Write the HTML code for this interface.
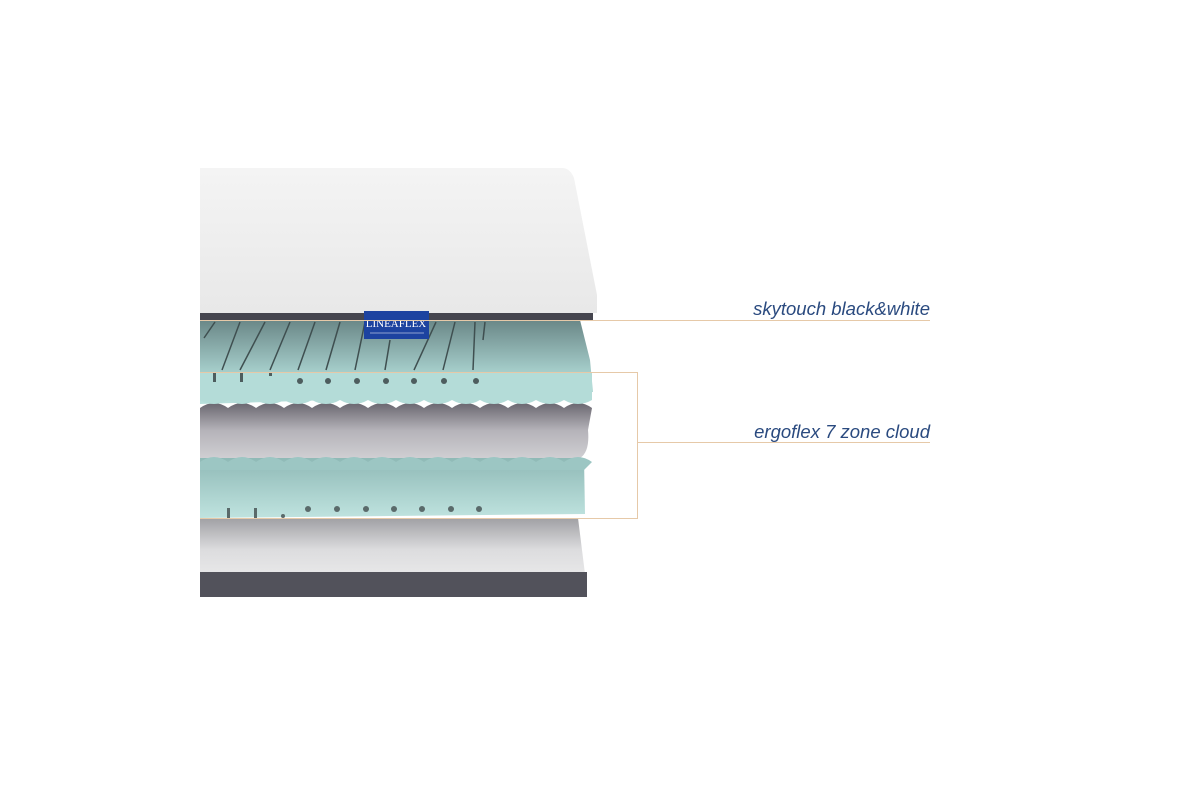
<!DOCTYPE html>
<html><head><meta charset="utf-8"><style>
html,body{margin:0;padding:0;background:#fff;width:1200px;height:800px;overflow:hidden}
svg{display:block}
</style></head><body>
<svg width="1200" height="800" viewBox="0 0 1200 800" xmlns="http://www.w3.org/2000/svg">
<defs>
<linearGradient id="top" x1="0" y1="0" x2="0" y2="1"><stop offset="0" stop-color="#f4f4f4"/><stop offset="1" stop-color="#e8e8e8"/></linearGradient>
<linearGradient id="teal" x1="0" y1="0" x2="0" y2="1"><stop offset="0" stop-color="#6a8787"/><stop offset="0.6" stop-color="#a4ccc9"/><stop offset="1" stop-color="#b9e0dc"/></linearGradient>
<linearGradient id="gray" x1="0" y1="0" x2="0" y2="1"><stop offset="0" stop-color="#6a6770"/><stop offset="0.5" stop-color="#b5b3b9"/><stop offset="1" stop-color="#cfced2"/></linearGradient>
<linearGradient id="base" x1="0" y1="0" x2="0" y2="1"><stop offset="0" stop-color="#a0a0a4"/><stop offset="0.4" stop-color="#dcdcde"/><stop offset="1" stop-color="#f2f2f2"/></linearGradient>
<linearGradient id="teal2" x1="0" y1="0" x2="0" y2="1"><stop offset="0" stop-color="#8fb9b6"/><stop offset="1" stop-color="#bfe3df"/></linearGradient>
</defs>
<!-- bottom base -->
<path d="M200 518 L578 518 L587 590 L587 597 L200 597 Z" fill="url(#base)"/>
<rect x="200" y="572" width="387" height="25" fill="#52525b"/>
<!-- lower teal -->
<path d="M200 458 L584 458 L585 514 L200 518 Z" fill="url(#teal2)"/>
<g fill="#5a6a6a">
<rect x="227" y="508" width="3" height="10"/><rect x="254" y="508" width="3" height="10"/><circle cx="283" cy="516" r="2"/>
<circle cx="308" cy="509" r="3"/><circle cx="337" cy="509" r="3"/><circle cx="366" cy="509" r="3"/><circle cx="394" cy="509" r="3"/><circle cx="422" cy="509" r="3"/><circle cx="451" cy="509" r="3"/><circle cx="479" cy="509" r="3"/>
</g>
<!-- gray wavy -->
<path d="M200 408 q14 -10 28 0 q14 -10 28 0 q14 -10 28 0 q14 -10 28 0 q14 -10 28 0 q14 -10 28 0 q14 -10 28 0 q14 -10 28 0 q14 -10 28 0 q14 -10 28 0 q14 -10 28 0 q14 -10 28 0 q14 -10 28 0 q14 -10 28 0 L588 430 Q590 452 580 458 L200 458 Z" fill="url(#gray)"/>
<path d="M200 462 q14 -10 28 0 q14 -10 28 0 q14 -10 28 0 q14 -10 28 0 q14 -10 28 0 q14 -10 28 0 q14 -10 28 0 q14 -10 28 0 q14 -10 28 0 q14 -10 28 0 q14 -10 28 0 q14 -10 28 0 q14 -10 28 0 q14 -10 28 0 L584 470 L200 470 Z" fill="#9cc6c3"/>
<!-- upper teal -->
<path d="M200 320 L580 320 L590 360 L593 392 L200 404 Z" fill="url(#teal)"/>
<rect x="200" y="372" width="392" height="28" fill="#b4dcd8"/>
<path d="M200 400 q14 8 28 0 q14 8 28 0 q14 8 28 0 q14 8 28 0 q14 8 28 0 q14 8 28 0 q14 8 28 0 q14 8 28 0 q14 8 28 0 q14 8 28 0 q14 8 28 0 q14 8 28 0 q14 8 28 0 q14 8 28 0 L592 400 L592 396 L200 396 Z" fill="#b4dcd8"/>
<g stroke="#3f4f50" stroke-width="1.5">
<line x1="215" y1="322" x2="204" y2="338"/><line x1="240" y1="322" x2="222" y2="370"/><line x1="265" y1="322" x2="240" y2="370"/>
<line x1="290" y1="322" x2="270" y2="370"/><line x1="315" y1="322" x2="298" y2="370"/><line x1="340" y1="322" x2="326" y2="370"/>
<line x1="365" y1="322" x2="355" y2="370"/><line x1="390" y1="340" x2="385" y2="370"/><line x1="436" y1="322" x2="414" y2="370"/>
<line x1="455" y1="322" x2="443" y2="370"/><line x1="475" y1="322" x2="473" y2="370"/><line x1="485" y1="322" x2="483" y2="340"/>
</g>
<g fill="#4d5d5e">
<rect x="213" y="372" width="3" height="10"/><rect x="240" y="372" width="3" height="10"/><rect x="269" y="372" width="3" height="4"/>
<circle cx="300" cy="381" r="3"/><circle cx="328" cy="381" r="3"/><circle cx="357" cy="381" r="3"/><circle cx="386" cy="381" r="3"/><circle cx="414" cy="381" r="3"/><circle cx="444" cy="381" r="3"/><circle cx="476" cy="381" r="3"/>
</g>
<!-- top white -->
<path d="M200 168 L562 168 Q570 168 574 178 L597 295 L597 313 L200 313 Z" fill="url(#top)"/>
<rect x="200" y="313" width="393" height="7" fill="#45454e"/>
<!-- label -->
<rect x="364" y="311" width="65" height="28" fill="#1d43a0"/>
<text x="396" y="327" font-family="Liberation Serif,serif" font-size="11" fill="#fff" text-anchor="middle">LINEAFLEX</text>
<line x1="370" y1="333" x2="424" y2="333" stroke="#b5c0e0" stroke-width="0.8"/>
<!-- connector lines -->
<g stroke="#e6c9a8" stroke-width="1" fill="none">
<line x1="200" y1="320.5" x2="930" y2="320.5"/>
<polyline points="200,372.5 637.5,372.5 637.5,518.5 200,518.5"/>
<line x1="637" y1="442.5" x2="930" y2="442.5"/>
</g>
<g font-family="Liberation Sans,sans-serif" font-style="italic" font-size="18.5" fill="#2a4a7f" text-anchor="end">
<text x="930" y="315">skytouch black&amp;white</text>
<text x="930" y="438">ergoflex 7 zone cloud</text>
</g>
</svg>
</body></html>
